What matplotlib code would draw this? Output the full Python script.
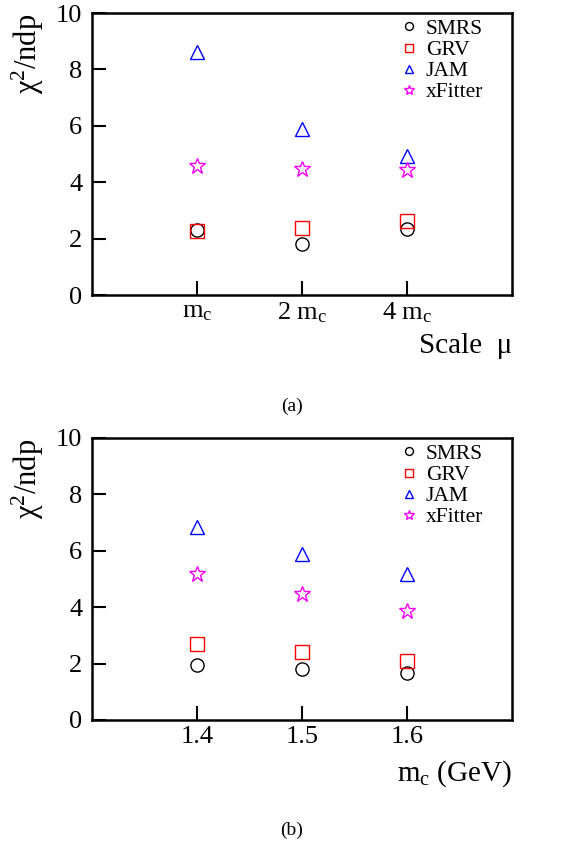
import numpy as np
import matplotlib
matplotlib.use("Agg")
import matplotlib.pyplot as plt

plt.rcParams['font.family'] = ['Liberation Serif', 'DejaVu Serif']
plt.rcParams['mathtext.fontset'] = 'custom'
plt.rcParams['mathtext.rm'] = 'Liberation Serif'
plt.rcParams['mathtext.it'] = 'Liberation Serif'

# panel (a): scale variation
scale_x = [1, 2, 3]
scale_labels = ['m$_c$', '2 m$_c$', '4 m$_c$']
scale_smrs = [2.29, 1.82, 2.34]
scale_grv = [2.27, 2.38, 2.62]
scale_jam = [8.63, 5.88, 4.93]
scale_xfitter = [4.56, 4.46, 4.44]

# panel (b): charm mass variation
mc_x = [1.4, 1.5, 1.6]
mc_labels = ['1.4', '1.5', '1.6']
mc_smrs = [1.95, 1.82, 1.68]
mc_grv = [2.68, 2.40, 2.10]
mc_jam = [6.85, 5.87, 5.19]
mc_xfitter = [5.17, 4.46, 3.87]

names = ['SMRS', 'GRV', 'JAM', 'xFitter']
markers = ['o', 's', '^', '*']
colors = ['black', 'red', 'blue', 'magenta']


def draw_panel(ax, x, series, xlim, xticklabels, xlabel):
    for vals, name, m, c in zip(series, names, markers, colors):
        ms = 12 if m == '*' else 9.5
        ax.plot(x, vals, linestyle='none', marker=m, markersize=ms,
                markerfacecolor='none', markeredgecolor=c, markeredgewidth=1.0,
                label=name)
    ax.set_xlim(*xlim)
    ax.set_ylim(0, 10)
    ax.set_xticks(x)
    ax.set_xticklabels(xticklabels)
    ax.set_yticks([0, 2, 4, 6, 8, 10])
    ax.tick_params(direction='in', length=10, width=1.5, labelsize=19)
    ax.tick_params(axis='y', pad=7)
    ax.tick_params(axis='x', pad=4)
    for sp in ax.spines.values():
        sp.set_linewidth(1.8)
    ax.set_ylabel('χ$^{2}$/ndp', fontsize=22)
    ax.yaxis.set_label_coords(-0.11, 0.855)
    ax.set_xlabel(xlabel, fontsize=21, ha='right')
    ax.xaxis.set_label_coords(1.0, -0.135)
    leg = ax.legend(loc='upper right', frameon=False, fontsize=15.5, markerscale=0.6,
                    handlelength=1.0, handletextpad=0.3, labelspacing=0.05,
                    bbox_to_anchor=(0.962, 1.025), borderaxespad=0.2)
    return leg


fig = plt.figure(figsize=(5.69, 8.42), dpi=100)
ax1 = fig.add_axes([92 / 569, 1 - 295 / 842, 420 / 569, 282 / 842])
ax2 = fig.add_axes([92 / 569, 1 - 720 / 842, 420 / 569, 282 / 842])

draw_panel(ax1, scale_x, [scale_smrs, scale_grv, scale_jam, scale_xfitter],
           (0, 4), scale_labels, 'Scale  μ')
draw_panel(ax2, mc_x, [mc_smrs, mc_grv, mc_jam, mc_xfitter],
           (1.3, 1.7), mc_labels, 'm$_c$ (GeV)')

fig.text(292 / 569, 1 - 406 / 842, '(a)', ha='center', va='center', fontsize=14)
fig.text(292 / 569, 1 - 830 / 842, '(b)', ha='center', va='center', fontsize=14)

fig.savefig('out.png', dpi=100)
